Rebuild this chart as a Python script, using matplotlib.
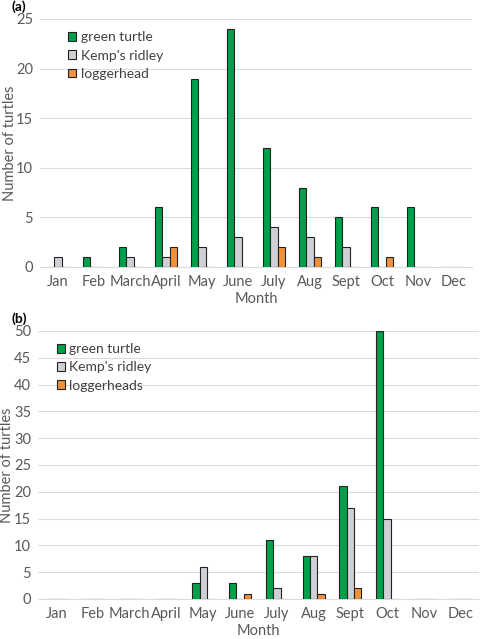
import matplotlib.pyplot as plt
import numpy as np

months = ['Jan', 'Feb', 'March', 'April', 'May', 'June', 'July', 'Aug', 'Sept', 'Oct', 'Nov', 'Dec']

# panel (a)
green_a = [0, 1, 2, 6, 19, 24, 12, 8, 5, 6, 6, 0]
kemp_a = [1, 0, 1, 1, 2, 3, 4, 3, 2, 0, 0, 0]
logger_a = [0, 0, 0, 2, 0, 0, 2, 1, 0, 1, 0, 0]

# panel (b)
green_b = [0, 0, 0, 0, 3, 3, 11, 8, 21, 50, 0, 0]
kemp_b = [0, 0, 0, 0, 6, 0, 2, 8, 17, 15, 0, 0]
logger_b = [0, 0, 0, 0, 0, 1, 0, 1, 2, 0, 0, 0]

plt.rcParams['font.family'] = ['Lato', 'DejaVu Sans']

fig = plt.figure(figsize=(4.8, 6.39), dpi=100)
ax1 = fig.add_axes([40/480, 1-267/639, 432/480, 248/639])
ax2 = fig.add_axes([38/480, 1-599/639, 441/480, 268/639])

cols = ['#00a04b', '#cfcfd6', '#f0923c']
tick_col = '#595959'

def draw(ax, series, labels, ymax, step, anchor):
    x = np.arange(len(months))
    w = 0.2
    for k, (vals, lab, c) in enumerate(zip(series, labels, cols)):
        ax.bar(x + (k - 1) * w, vals, w, color=c, edgecolor='#222222', linewidth=0.8, label=lab, zorder=3)
    ax.set_xlim(-0.5, 11.5)
    ax.set_ylim(0, ymax)
    ax.set_yticks(np.arange(0, ymax + 1, step))
    ax.set_xticks(x)
    ax.set_xticklabels(months)
    ax.grid(axis='y', color='#dcdcdc', linewidth=0.8, zorder=0)
    for s in ['top', 'right', 'left']:
        ax.spines[s].set_visible(False)
    ax.spines['bottom'].set_color('#dcdcdc')
    ax.tick_params(length=0, colors=tick_col, labelsize=10.5)
    ax.tick_params(axis='x', pad=6)
    ax.tick_params(axis='y', pad=5)
    ax.set_xlabel('Month', color=tick_col, fontsize=10.5, labelpad=2)
    ax.set_ylabel('Number of turtles', color=tick_col, fontsize=10.5)
    leg = ax.legend(loc='upper left', frameon=False, fontsize=10, handlelength=0.6, handleheight=0.6,
                    handletextpad=0.3, labelspacing=0.45, borderpad=0, borderaxespad=0,
                    bbox_to_anchor=anchor)
    for t in leg.get_texts():
        t.set_color('#404040')

draw(ax1, [green_a, kemp_a, logger_a], ['green turtle', "Kemp's ridley", 'loggerhead'], 25, 5,
     (0.065, 0.95))
draw(ax2, [green_b, kemp_b, logger_b], ['green turtle', "Kemp's ridley", 'loggerheads'], 50, 5,
     (0.043, 0.955))
ax1.yaxis.set_label_coords(17/480, 1-143/639, transform=fig.transFigure)
ax2.yaxis.set_label_coords(14/480, 1-465/639, transform=fig.transFigure)

fig.text(12/480, 1-7/639, '(a)', fontsize=10, fontweight='bold', va='center', ha='left')
fig.text(12/480, 1-319/639, '(b)', fontsize=10, fontweight='bold', va='center', ha='left')

fig.savefig('out.png', dpi=100)
